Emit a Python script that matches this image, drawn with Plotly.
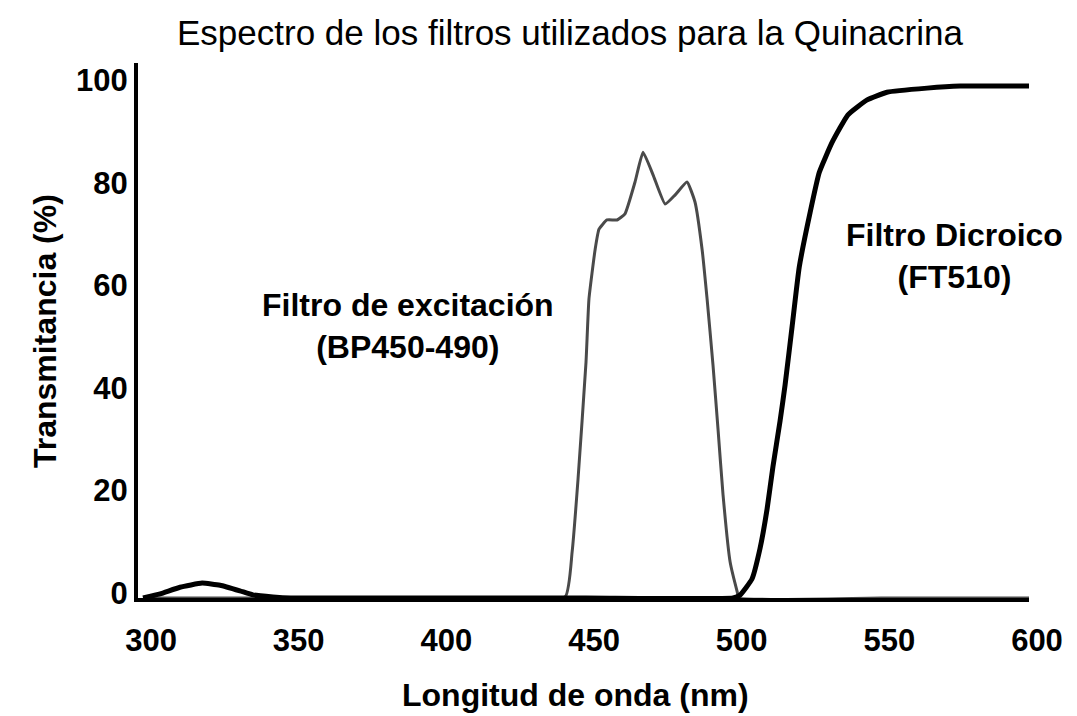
import plotly.graph_objects as go

# ---- data ----
exc_nm = [300, 350, 400, 442.9, 445.3, 447.3, 450.0, 451.0, 453.1, 454.4, 457.1, 460.5, 463.2,
          466.6, 469.3, 472.7, 476.8, 480.2, 484.2, 486.9, 489.3, 491.0, 493.0, 494.7,
          496.4, 498.8, 501.2, 501.8, 550, 600]
exc_T = [0, 0, 0, 0.2, 9.0, 23.2, 46.0, 58.3, 68.0, 71.9, 73.7, 73.7, 74.9,
         81.1, 86.9, 82.5, 76.8, 78.6, 81.1, 77.2, 68.0, 58.3, 45.4, 32.9,
         20.1, 7.0, 1.2, 0, 0, 0]

dic_nm = [300, 305.8, 312.5, 320, 326.1, 332.8, 337.2, 344, 350, 400, 450, 499.8,
          502.2, 506.2, 508.9, 511.3, 513.3, 515.7, 517.4, 519.8, 522.2, 525.9, 529.0,
          533.4, 538.7, 545.2, 551.9, 565.5, 576.7, 600]
dic_T = [0, 0.8, 2.1, 2.9, 2.5, 1.4, 0.6, 0.2, 0, 0, 0, 0,
         0.6, 3.7, 9.6, 17.3, 25.6, 34.5, 41.5, 53.0, 64.5, 75.2, 83.0,
         88.9, 94.2, 97.1, 98.6, 99.4, 99.8, 99.8]

x_ticks = [300, 350, 400, 450, 500, 550, 600]
y_ticks = [0, 20, 40, 60, 80, 100]

title_text = "Espectro de los filtros utilizados para la Quinacrina"
x_title = "Longitud de onda (nm)"
y_title = "Transmitancia (%)"
label_exc = "Filtro de excitación<br>(BP450-490)"
label_dic = "Filtro Dicroico<br>(FT510)"

# ---- layout geometry ----
W, H = 1077, 716
ML, MR, MT, MB = 138, 48, 63, 118
PW, PH = W - ML - MR, H - MT - MB


def px(x):
    return (x - ML) / PW


def py(y):
    return (H - MB - y) / PH


FONT = "Liberation Sans, Arial, sans-serif"
TICK = dict(family=FONT, size=31, color="black", weight="bold")
BOLD = dict(family=FONT, size=32, color="black", weight="bold")

fig = go.Figure()
fig.add_trace(go.Scatter(x=exc_nm, y=exc_T, mode="lines",
                         line=dict(color="#4a4a4a", width=3, shape="spline", smoothing=0.4),
                         showlegend=False, hoverinfo="skip"))
fig.add_trace(go.Scatter(x=dic_nm, y=dic_T, mode="lines",
                         line=dict(color="black", width=5, shape="spline", smoothing=0.4),
                         showlegend=False, hoverinfo="skip"))

fig.update_layout(
    width=W, height=H,
    margin=dict(l=ML, r=MR, t=MT, b=MB),
    paper_bgcolor="white", plot_bgcolor="white",
    title=dict(text=title_text, x=570 / W, xanchor="center",
               y=1 - 33 / H, yanchor="middle",
               font=dict(family="Liberation Sans Narrow, Arial Narrow, Liberation Sans, sans-serif",
                         size=35, color="black")),
    xaxis=dict(range=[298.3, 600], tickvals=x_ticks, ticktext=[str(v) for v in x_ticks],
               showgrid=False, zeroline=False, showline=True, linecolor="black", linewidth=4,
               ticks="", tickfont=TICK, ticklabelstandoff=12, ticklabelshift=8),
    yaxis=dict(range=[0, 104.3], tickvals=y_ticks, ticktext=[str(v) for v in y_ticks],
               showgrid=False, zeroline=False, showline=True, linecolor="black", linewidth=4,
               ticks="", tickfont=TICK, ticklabelstandoff=0, ticklabelshift=-5),
    annotations=[
        dict(text=x_title, xref="paper", yref="paper", x=px(575), y=py(695),
             xanchor="center", yanchor="middle", showarrow=False, font=BOLD),
        dict(text=y_title, xref="paper", yref="paper", x=px(45), y=py(331),
             xanchor="center", yanchor="middle", showarrow=False, textangle=-90, font=BOLD),
        dict(text=label_exc, xref="paper", yref="paper", x=px(408), y=py(326),
             xanchor="center", yanchor="middle", showarrow=False, align="center", font=BOLD),
        dict(text=label_dic, xref="paper", yref="paper", x=px(954), y=py(256),
             xanchor="center", yanchor="middle", showarrow=False, align="center", font=BOLD),
    ],
)

fig.write_html("out.html")
